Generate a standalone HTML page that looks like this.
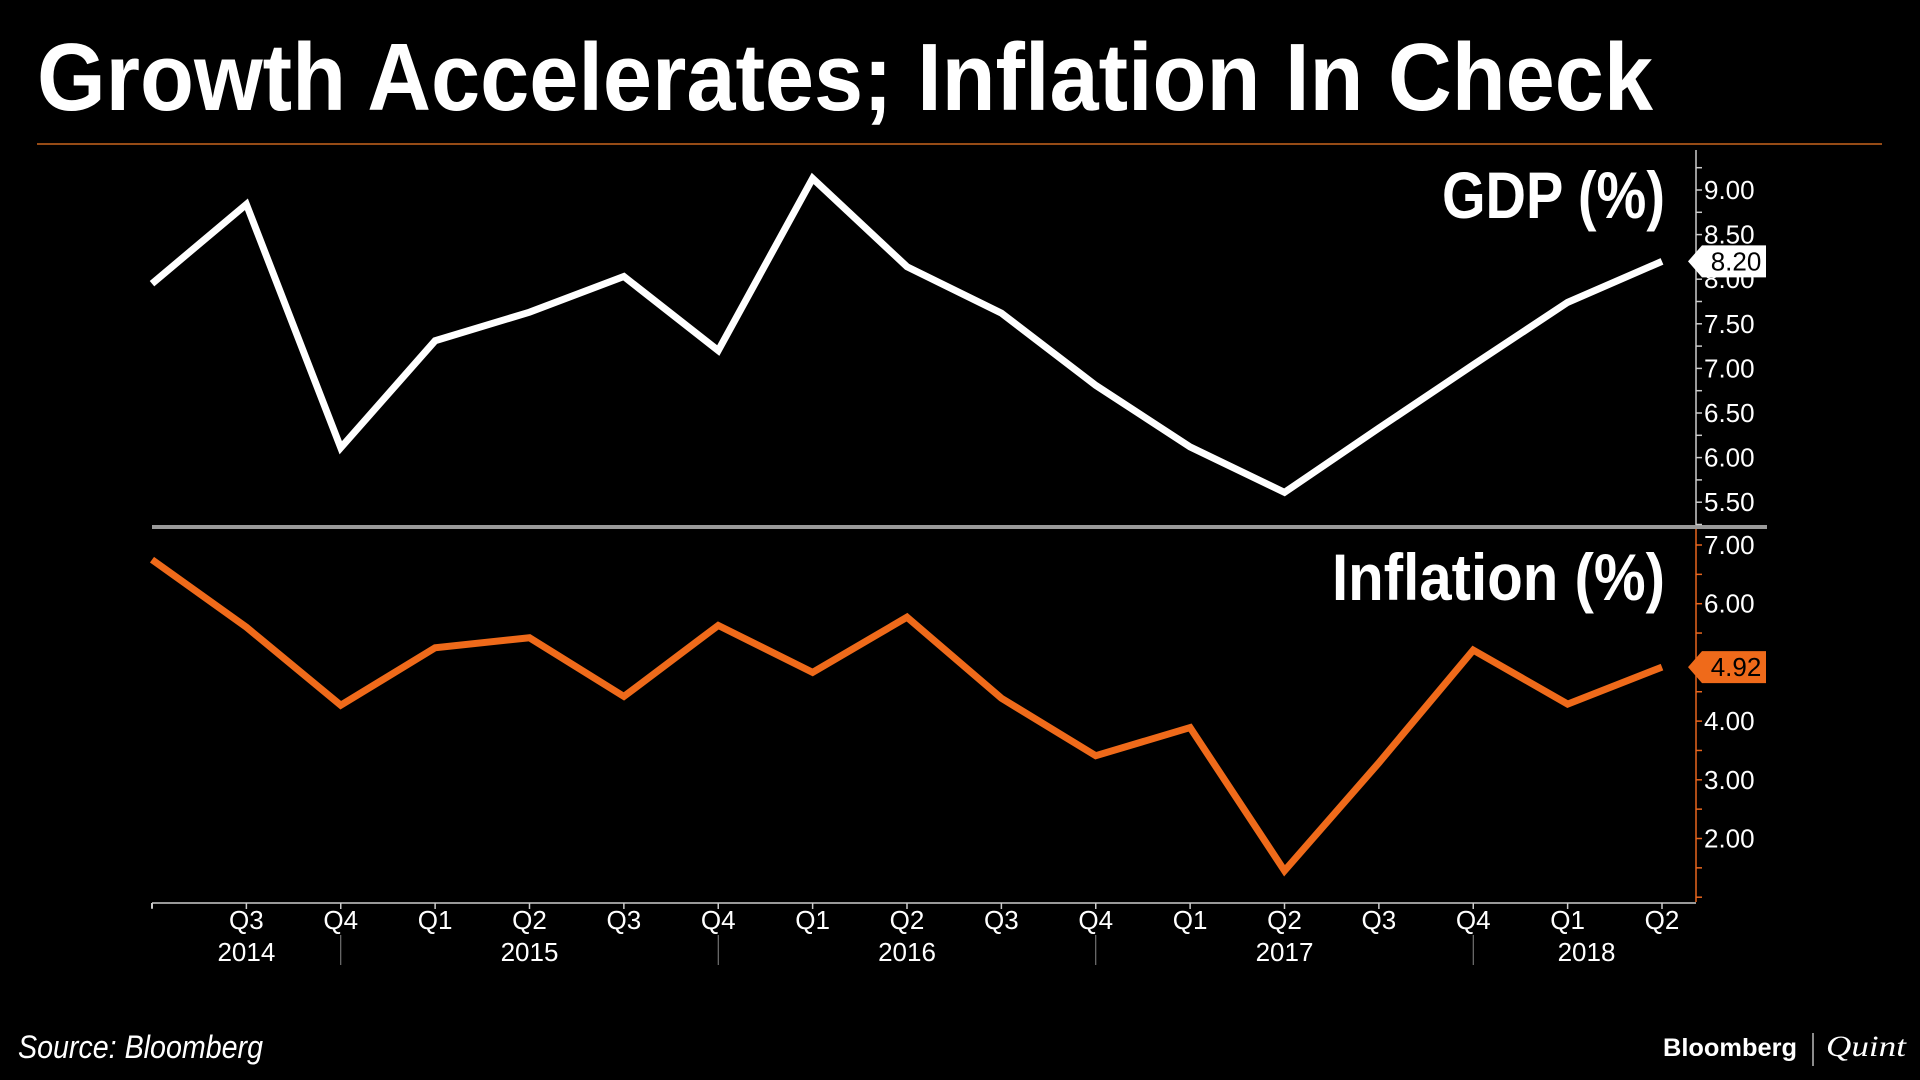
<!DOCTYPE html>
<html><head><meta charset="utf-8">
<style>
html,body{margin:0;padding:0;background:#000;}
svg{display:block;}
text{font-family:"Liberation Sans",sans-serif;}
</style></head>
<body>
<svg id="chart" width="1920" height="1080" viewBox="0 0 1920 1080" xmlns="http://www.w3.org/2000/svg">
<rect width="1920" height="1080" fill="#000"/>
<text x="37" y="110" font-size="96" font-weight="bold" fill="#fff" textLength="1616" lengthAdjust="spacingAndGlyphs" style="font-family:'Liberation Sans Narrow','Liberation Sans',sans-serif">Growth Accelerates; Inflation In Check</text>
<line x1="37" y1="144" x2="1882" y2="144" stroke="#c8641e" stroke-width="1.5"/>
<text x="1665" y="218" font-size="66" font-weight="bold" fill="#fff" text-anchor="end" textLength="223" lengthAdjust="spacingAndGlyphs" style="font-family:'Liberation Sans Narrow','Liberation Sans',sans-serif">GDP (%)</text>
<text x="1665" y="600" font-size="66" font-weight="bold" fill="#fff" text-anchor="end" textLength="333" lengthAdjust="spacingAndGlyphs" style="font-family:'Liberation Sans Narrow','Liberation Sans',sans-serif">Inflation (%)</text>
<g id="g-axes"></g>
<g id="g-series"></g>
<text x="18" y="1058" font-size="32" font-style="italic" fill="#fff" textLength="245" lengthAdjust="spacingAndGlyphs" style="font-family:'Liberation Sans Narrow','Liberation Sans',sans-serif">Source: Bloomberg</text>
<text x="1663" y="1056" font-size="25" font-weight="bold" fill="#fff" textLength="134" lengthAdjust="spacingAndGlyphs">Bloomberg</text>
<line x1="1813" y1="1033" x2="1813" y2="1066" stroke="#bbb" stroke-width="1.5"/>
<text x="1826" y="1056" font-size="30" font-style="italic" fill="#fff" style="font-family:'Liberation Serif',serif" textLength="80" lengthAdjust="spacingAndGlyphs">Quint</text>
</svg>
<script>
const quarters = ["Q2","Q3","Q4","Q1","Q2","Q3","Q4","Q1","Q2","Q3","Q4","Q1","Q2","Q3","Q4","Q1","Q2"];
const years = ["2014","2015","2016","2017","2018"];
const yearPos = [1, 4, 8, 12, 15.2];
const yearBreaks = [2, 6, 10, 14];
const gdp = [7.95,8.84,6.11,7.31,7.63,8.03,7.20,9.13,8.14,7.62,6.81,6.12,5.61,6.33,7.04,7.74,8.20];
const inflation = [6.75,5.60,4.27,5.25,5.42,4.42,5.63,4.83,5.77,4.39,3.41,3.89,1.45,3.29,5.21,4.29,4.92];
const gdpTicks = ["5.50","6.00","6.50","7.00","7.50","8.00","8.50","9.00"];
const inflTicks = ["2.00","3.00","4.00","5.00","6.00","7.00"];

const NS = "http://www.w3.org/2000/svg";
const axes = document.getElementById('g-axes');
const series = document.getElementById('g-series');
function mk(tag, attrs, parent, txt){
  const e = document.createElementNS(NS, tag);
  for (const k in attrs) e.setAttribute(k, attrs[k]);
  if (txt !== undefined) e.textContent = txt;
  parent.appendChild(e);
  return e;
}
const X0 = 152, X1 = 1662, AX = 1696;
const xScale = i => X0 + (X1 - X0) * i / (quarters.length - 1);
const yGdp = v => 190 + (9 - v) * 89.2;
const yInf = v => 545 + (7 - v) * 58.7;

let sep = mk('line', {x1:152, y1:527, x2:1767, y2:527, stroke:'#9a9a9a', 'stroke-width':4}, axes);


let ga = mk('line', {x1:AX, y1:150, x2:AX, y2:525, stroke:'#ccc', 'stroke-width':1.5}, axes);


for (let v = 5.25; v <= 9.26; v += 0.25) {
  const y = yGdp(v);
  mk('line', {x1:AX, y1:y, x2:AX+6, y2:y, stroke:'#ccc', 'stroke-width':1.5}, axes);
}
gdpTicks.forEach(t => {
  const tl = mk('text', {x:AX+8, y:yGdp(+t)+9, 'font-size':26, fill:'#fff'}, axes, t);
  
  
});
let ia = mk('line', {x1:AX, y1:529, x2:AX, y2:902, stroke:'#e8661e', 'stroke-width':1.5}, axes);


for (let v = 1; v <= 7.01; v += 0.5) {
  const y = yInf(v);
  mk('line', {x1:AX, y1:y, x2:AX+6, y2:y, stroke:'#e8661e', 'stroke-width':1.5}, axes);
}
inflTicks.forEach(t => {
  if (t === "5.00") return;
  const tl = mk('text', {x:AX+8, y:yInf(+t)+9, 'font-size':26, fill:'#fff'}, axes, t);
  
  
});
let xa = mk('line', {x1:152, y1:903, x2:AX, y2:903, stroke:'#ccc', 'stroke-width':1.5}, axes);


mk('line', {x1:152, y1:903, x2:152, y2:908, stroke:'#ccc', 'stroke-width':2}, axes);
quarters.forEach((q, i) => {
  const x = xScale(i);
  mk('line', {x1:x, y1:903, x2:x, y2:909, stroke:'#ccc', 'stroke-width':1.5}, axes);
  if (i === 0) return;
  const ql = mk('text', {x:x, y:929, 'font-size':26, fill:'#fff', 'text-anchor':'middle'}, axes, q);
  
  
});
yearBreaks.forEach(i => {
  const x = xScale(i);
  mk('line', {x1:x, y1:935, x2:x, y2:965, stroke:'#888', 'stroke-width':1}, axes);
});
years.forEach((yv, k) => {
  const yl = mk('text', {x:xScale(yearPos[k]), y:961, 'font-size':26, fill:'#fff', 'text-anchor':'middle'}, axes, yv);
  
  
});
const gp = gdp.map((v, i) => xScale(i) + ',' + yGdp(v)).join(' ');
const gl = mk('polyline', {points:gp, fill:'none', stroke:'#fff', 'stroke-width':7, 'stroke-linejoin':'miter'}, series);


const ip = inflation.map((v, i) => xScale(i) + ',' + yInf(v)).join(' ');
const il = mk('polyline', {points:ip, fill:'none', stroke:'#ef6a1a', 'stroke-width':7, 'stroke-linejoin':'miter'}, series);


function badge(y, val, bg, fg, name){
  const g = mk('g', {}, series);
  
  
  mk('polygon', {points:`${AX-8},${y} ${AX+6},${y-16} ${AX+70},${y-16} ${AX+70},${y+16} ${AX+6},${y+16}`, fill:bg}, g);
  mk('text', {x:AX+40, y:y+9, 'font-size':26, fill:fg, 'text-anchor':'middle'}, g, val.toFixed(2));
}
badge(yGdp(gdp[gdp.length-1]), gdp[gdp.length-1], '#fff', '#000', 'gdp-last-value');
badge(yInf(inflation[inflation.length-1]), inflation[inflation.length-1], '#ef6a1a', '#000', 'inflation-last-value');
</script>
</body></html>
